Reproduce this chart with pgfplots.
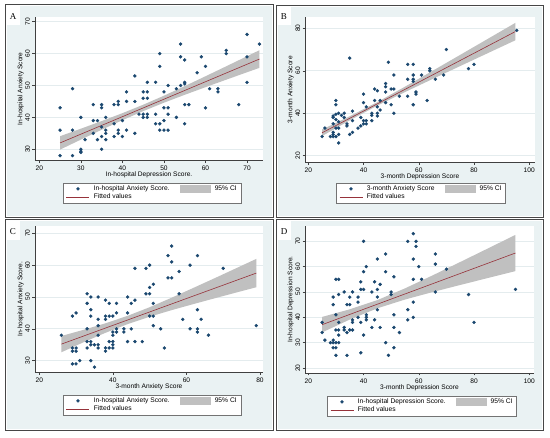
\documentclass[border=0pt]{standalone}
\usepackage{fontspec}
\setmainfont{Liberation Sans}
\newfontfamily\serifL{Liberation Serif}
\usepackage{pgfplots}
\pgfplotsset{compat=1.18}
\definecolor{stnavy}{RGB}{26,71,111}
\definecolor{stmaroon}{RGB}{150,50,58}
\definecolor{stbg}{RGB}{234,242,243}
\definecolor{stgrid}{RGB}{228,236,238}
\definecolor{stci}{RGB}{192,192,192}
\definecolor{stframe}{RGB}{70,70,70}
\pgfplotsset{
 panel/.style={
  scale only axis, anchor=south west,
  axis lines=left, axis line style={-, draw=black!75, line width=0.5pt},
  tick align=outside, major tick length=2.5pt, tick style={black!75, line width=0.5pt},
  ymajorgrids, grid style={stgrid, line width=0.7pt},
  axis background/.style={fill=white},
  /pgf/number format/assume math mode=true,
  ticklabel style={font=\fontsize{6.6}{7}\selectfont, inner sep=0pt},
  yticklabel style={xshift=-2.5pt, rotate=90, anchor=base},
  xticklabel style={anchor=base, yshift=-7.6pt},
  label style={font=\fontsize{6.6}{7}\selectfont, inner sep=0pt},
  xlabel style={at={([yshift=-16.2pt]axis description cs:0.5,0)}, anchor=base},
  ylabel style={at={([xshift=-12.7pt]axis description cs:0,0.5)}, anchor=base},
  legend style={anchor=north west, draw=black!55, line width=0.4pt, fill=white,
    font=\fontsize{6.7}{7.5}\selectfont, legend columns=2, inner xsep=3pt, inner ysep=1.5pt,
    row sep=0pt, nodes={inner sep=1pt},
    /tikz/every even column/.append style={column sep=9pt},
    /tikz/every odd column/.append style={column sep=3pt}},
  legend cell align=left,
 },
 sc/.style={only marks, mark=*, mark size=1.5pt, color=stnavy,
   legend image code/.code={\draw[draw=none] (0pt,0pt) -- (23pt,0pt);
     \draw[mark repeat=2, mark phase=2] plot coordinates {(0pt,0pt) (11.5pt,0pt) (23pt,0pt)};}},
 ci/.style={fill=stci, draw=none,
   legend image code/.code={\fill[stci] (0pt,-3.8pt) rectangle (31pt,3.8pt);}},
 fl/.style={stmaroon, line width=0.6pt,
   legend image code/.code={\draw[stmaroon, line width=0.6pt] (0pt,0pt) -- (23pt,0pt);}},
}
\begin{document}
\begin{tikzpicture}
% background and frames
\fill[white] (0pt,0pt) rectangle (550pt,438pt);
\draw[stframe, line width=1pt, fill=white] (5pt,220.5pt) rectangle (273pt,433pt);
\fill[stbg] (6.5pt,222pt) rectangle (271.5pt,431.5pt);
\draw[stframe, line width=1pt, fill=white] (276pt,220.5pt) rectangle (543.5pt,432.5pt);
\fill[stbg] (277.5pt,222pt) rectangle (542pt,431pt);
\draw[stframe, line width=1pt, fill=white] (5pt,7pt) rectangle (273pt,218.5pt);
\fill[stbg] (6.5pt,8.5pt) rectangle (271.5pt,217pt);
\draw[stframe, line width=1pt, fill=white] (276pt,7pt) rectangle (543.5pt,218.5pt);
\fill[stbg] (277.5pt,8.5pt) rectangle (542pt,217pt);
% letter boxes
\fill[white] (6.5pt,413pt) rectangle (20pt,431.5pt);
\fill[white] (277.5pt,413pt) rectangle (291pt,431pt);
\fill[white] (6.5pt,198pt) rectangle (20pt,217pt);
\fill[white] (277.5pt,198pt) rectangle (291pt,217pt);
\node[font=\serifL\fontsize{9}{10}\selectfont] at (13pt,421pt) {A};
\node[font=\serifL\fontsize{9}{10}\selectfont] at (284pt,421pt) {B};
\node[font=\serifL\fontsize{9}{10}\selectfont] at (13pt,206pt) {C};
\node[font=\serifL\fontsize{9}{10}\selectfont] at (284pt,206pt) {D};

% ---------------- Panel A
\begin{axis}[panel, at={(35pt,277.3pt)}, width=228pt, height=143.7pt,
  xmin=18.96, xmax=73.85, ymin=26.42, ymax=71.48,
  xtick={20,30,...,70}, ytick={30,40,...,70},
  xlabel={In-hospital Depression Score.}, ylabel={In-hospital Anxiety Score},
  legend style={at={(axis description cs:0.1228,-0.155)}}]
\addplot[sc] coordinates {(25,28)(25,36)(25,43)(28,28)(28,36)(28,49)(30,40)(30,30)(30,29.4)(30,29)(31,33)(33,44)(33,39)(33,35)(34,39)(34,33)(35,44)(35,43)(35,34)(35,30)(35,37)(36,40)(36,36)(36,35)(36,33)(38,44)(38,34)(38,38)(39,45)(39,44)(39,36)(39,35)(40,39)(40,34)(41,48)(41,45)(41,36)(43,53)(43,45)(43,35)(44,41)(45,48)(45,46)(45,41)(45,40)(46,51)(46,48)(46,46)(46,41)(46,40)(48,51)(48,41)(48,38)(49,60)(49,56)(49,38)(49,36)(50,48)(50,43)(50,39)(50,36)(51,50)(51,43)(51,41)(51,36)(53,49)(53,40)(54,63)(54,59)(54,50)(55,58)(55,51)(55,50.5)(55,44)(55,38)(56,44)(58,54)(59,59)(60,56)(60,43)(61,49)(63,49)(63,48)(65,61)(65,60)(68,44)(70,66)(70,51)(70,59)(73,63)};
\addlegendentry{In-hospital Anxiety Score.}
\addplot[ci] coordinates {(25,34.1)(30,36.45)(35,38.84)(40,41.32)(45,43.96)(50,46.8)(55,49.8)(60,52.89)(65,56.02)(70,59.17)(73,61.07)
  (73,55.53)(70,54.15)(65,51.82)(60,49.47)(55,47.08)(50,44.6)(45,41.96)(40,39.12)(35,36.12)(30,33.03)(25,29.9)};
\addlegendentry{95\% CI}
\addplot[fl] coordinates {(25,32.0)(73,58.3)};
\addlegendentry{Fitted values}
\end{axis}

% ---------------- Panel B
\begin{axis}[panel, at={(305pt,275.7pt)}, width=230pt, height=145.3pt,
  xmin=18.8, xmax=102.1, ymin=16.89, ymax=85.33,
  xtick={20,40,...,100}, ytick={20,40,...,80},
  xlabel={3-month Depression Score}, ylabel={3-month Anxiety Score},
  legend style={at={(axis description cs:0.1348,-0.1425)}}]
\addplot[sc] coordinates {(25,29)(26,33)(28,29)(29,31)(29,38.7)(29,38)(29,35)(29,30)(29,29)(30,46)(30,44)(30,39.5)(30,37)(30,33)(30,29)(31,40)(31,26)(31,30)(31,33)(31,36)(32,39)(33,40)(33,38)(34,34)(34,35)(35,66)(35,30)(36,41)(36,36.5)(36,31)(38,33)(39,38)(39,34)(40,49)(40,45)(40,36.5)(40,35)(41,43)(41,36.5)(41,35)(43,36.5)(43,40)(43,39)(44,51.4)(44,46)(45,50.6)(45,43)(45,40)(45,38.7)(46,46)(46,41.5)(48,54)(48,52.5)(48,50)(48,45)(49,64)(50,51.4)(50,44)(51,58)(51,51.4)(51,40)(53,48)(56,63)(56,56)(56,48)(58,63)(58,58)(58,56)(58,55)(58,44)(59,50)(59,49)(61,58)(63,46)(64,61)(64,60)(66,56)(69,58)(70,70)(78,61)(80,63)(95.5,79)};
\addlegendentry{3-month Anxiety Score}
\addplot[ci] coordinates {(25,32.32)(35,38.57)(45,45.25)(55,52.50)(65,59.96)(75,67.48)(85,75.02)(95,82.57)
  (95,74.37)(85,68.30)(75,62.22)(65,56.12)(55,49.96)(45,43.59)(35,36.65)(25,29.28)};
\addlegendentry{95\% CI}
\addplot[fl] coordinates {(25,30.8)(95,78.47)};
\addlegendentry{Fitted values}
\end{axis}

% ---------------- Panel C
\begin{axis}[panel, at={(35pt,65.7pt)}, width=228pt, height=146.3pt,
  xmin=18.83, xmax=80.82, ymin=26.36, ymax=72.29,
  xtick={20,40,60,80}, ytick={30,40,...,70},
  xlabel={3-month Anxiety Score}, ylabel={In-hospital Anxiety Score.},
  legend style={at={(axis description cs:0.1228,-0.155)}}]
\addplot[sc] coordinates {(26,38)(29,44)(29,33)(29,34)(29,29)(30,45)(30,34)(30,33)(30,29)(31,30)(33,51)(33,48)(33,40)(33,36)(33,34)(34,50)(34,46)(34,44)(34,36)(34,35)(34,30)(35,35)(35,28)(36,50)(36,43)(36,38)(36,35)(36,34)(36,41)(38,49)(38,44)(38,43)(38,34)(38,33)(39,48)(39,44)(39,36)(39,34)(40,44)(40,39)(40,38)(40,36)(40,35)(40,34)(41,48)(41,45)(41,40)(41,39)(43,40)(43,39)(44,50)(44,45)(44,36)(45,40)(45,48)(46,59)(46,49)(46,36)(48,36)(49,59)(49,51)(50,60)(50,53)(50,51)(50,44)(51,54)(51,48)(51,44)(51,41)(53,40)(54,34)(55,63)(55,56)(56,66)(56,61)(56,56)(58,58)(58,51)(59,43)(61,60)(61,40)(63,63)(63,46)(63,40)(63,39)(64,43)(66,38)(70,59)(79,41)};
\addlegendentry{In-hospital Anxiety Score.}
\addplot[ci] coordinates {(26,37.75)(32,39.68)(38,41.74)(44,44.08)(50,46.79)(56,49.78)(62,52.91)(68,56.07)(74,59.28)(79,61.96)
  (79,53.06)(74,51.54)(68,49.69)(62,47.81)(56,45.88)(50,43.81)(44,41.48)(38,38.76)(32,35.78)(26,32.65)};
\addlegendentry{95\% CI}
\addplot[fl] coordinates {(26,35.2)(79,57.51)};
\addlegendentry{Fitted values}
\end{axis}

% ---------------- Panel D
\begin{axis}[panel, at={(305pt,65pt)}, width=229pt, height=147pt,
  xmin=18.8, xmax=101.7, ymin=18.03, ymax=76.04,
  xtick={20,40,...,100}, ytick={20,30,...,70},
  xlabel={3-month Depression Score}, ylabel={In-hospital Depression Score.},
  legend style={at={(axis description cs:0.0961,-0.156)}}]
\addplot[sc] coordinates {(25,34)(25,38)(26,31)(28,30)(29,48)(29,45)(29,31)(29,30)(29,28)(30,55)(30,41)(30,35)(30,30)(30,28)(30,25)(31,55)(31,49)(31,38)(31,35)(31,33)(31,30)(33,50)(33,36)(33,35)(34,45)(34,34)(34,25)(35,48)(35,45)(35,35)(36,50)(36,38)(36,35)(36,39)(38,48)(38,46)(38,40)(39,54)(39,51)(39,38)(39,26)(40,70)(40,58)(40,51)(40,33)(41,60)(41,41)(41,40)(41,39)(43,50)(43,36)(44,54)(44,39)(45,63)(45,51)(45,48)(45,43)(46,53)(46,36)(48,65)(48,58)(48,30)(49,25)(50,50)(50,49)(51,56)(51,41)(51,36)(51,28)(53,34)(56,70)(56,43)(56,39)(58,73)(58,63)(58,55)(58,46)(58,40)(59,70)(59,68)(60,60)(61,55)(66,65)(66,61)(66,50)(70,59)(78,49)(80,38)(95,51)};
\addlegendentry{In-hospital Depression Score.}
\addplot[ci] coordinates {(25,40.15)(35,43.16)(45,46.79)(55,51.42)(65,56.55)(75,61.83)(85,67.17)(95,72.53)
  (95,58.23)(85,55.51)(75,52.77)(65,49.97)(55,47.02)(45,43.57)(35,39.12)(25,34.05)};
\addlegendentry{95\% CI}
\addplot[fl] coordinates {(25,37.1)(95,65.38)};
\addlegendentry{Fitted values}
\end{axis}
\end{tikzpicture}
\end{document}
